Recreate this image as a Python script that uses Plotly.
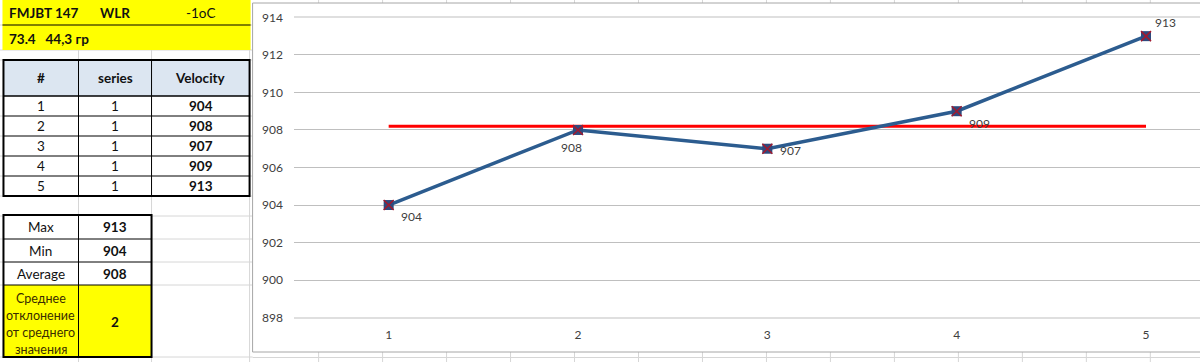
import plotly.graph_objects as go

# ---------------- data ----------------
shots = [1, 2, 3, 4, 5]
series_col = [1, 1, 1, 1, 1]
velocity = [904, 908, 907, 909, 913]
average_line = [908.2, 908.2, 908.2, 908.2, 908.2]
y_ticks = [898, 900, 902, 904, 906, 908, 910, 912, 914]

header_left = "FMJBT 147"
header_mid = "WLR"
header_right = "-1oC"
subheader = "73.4   44,3 гр"
table_headers = ["#", "series", "Velocity"]
stat_names = ["Max", "Min", "Average"]
stat_values = [913, 904, 908]
dev_label_lines = ["Среднее", "отклонение", "от среднего", "значения"]
dev_value = 2

# ---------------- geometry ----------------
W, H = 1200, 362
PL, PT, PB = 294.4, 17, 318          # plot area pixel edges
PW = W - PL
PH = PB - PT
STEP = 189.25                         # pixels per category
x_hi = 0.5 + PW / STEP


def px(x):
    return (x - PL) / PW


def py(y):
    return (PB - y) / PH


FONT = "Lato, 'Open Sans', sans-serif"
shapes = []
annotations = []


def rect(x0, y0, x1, y1, fill=None, line=None, lw=0, layer="below"):
    shapes.append(dict(type="rect", xref="paper", yref="paper",
                       x0=px(x0), x1=px(x1), y0=py(y0), y1=py(y1),
                       fillcolor=fill if fill else "rgba(0,0,0,0)",
                       line=dict(color=line if line else "rgba(0,0,0,0)", width=lw),
                       layer=layer))


def hline(x0, x1, y, color, lw=1, layer="below"):
    shapes.append(dict(type="line", xref="paper", yref="paper",
                       x0=px(x0), x1=px(x1), y0=py(y), y1=py(y),
                       line=dict(color=color, width=lw), layer=layer))


def vline(x, y0, y1, color, lw=1, layer="below"):
    shapes.append(dict(type="line", xref="paper", yref="paper",
                       x0=px(x), x1=px(x), y0=py(y0), y1=py(y1),
                       line=dict(color=color, width=lw), layer=layer))


def text(x, y, s, bold=False, anchor="center", size=13.5, color="#111111"):
    annotations.append(dict(xref="paper", yref="paper", x=px(x), y=py(y),
                            text=f"<b>{s}</b>" if bold else s, showarrow=False,
                            xanchor=anchor, yanchor="middle",
                            font=dict(family=FONT, size=size, color=color)))


GRID = "#D6D6D6"
# spreadsheet gridlines (left side)
for gx in [79, 152, 250]:
    vline(gx, 0, 362, GRID)
for gy in [25, 50, 60, 96, 116, 136, 156, 176, 196, 216, 239, 262, 285, 357]:
    hline(0, 253, gy, GRID)
# gridlines above / below chart
for k in range(15):
    gx = 319 + 63.95 * k
    vline(gx, 352, 362, GRID)
    vline(gx, 0, 3, GRID)
hline(253, 1200, 357.5, GRID)

# yellow header rows
rect(3, 0, 251, 50, fill="#FFFF00")
hline(3, 251, 25, "#000000", 1)
text(8, 13, header_left, bold=True, anchor="left")
text(115.5, 13, header_mid, bold=True)
text(201, 13, header_right)
text(8, 39, subheader, bold=True, anchor="left")

# main table
cols = [4, 79, 152, 250]
rect(4, 60, 250, 96, fill="#DCE6F1")
rect(4, 96, 250, 196, fill="#FFFFFF")
for i, h in enumerate(table_headers):
    text((cols[i] + cols[i + 1]) / 2, 78, h, bold=True)
row_y = [96, 116, 136, 156, 176, 196]
for r in range(len(shots)):
    cy = (row_y[r] + row_y[r + 1]) / 2
    text((cols[0] + cols[1]) / 2, cy, str(shots[r]))
    text((cols[1] + cols[2]) / 2, cy, str(series_col[r]))
    text((cols[2] + cols[3]) / 2, cy, str(velocity[r]), bold=True)
for yy in row_y[1:-1]:
    hline(4, 250, yy, "#000000", 1)
hline(4, 250, 96, "#000000", 1.5)
for xx in cols[1:-1]:
    vline(xx, 60, 196, "#000000", 1)
rect(4, 60, 250, 196, line="#000000", lw=2)

# stats table
scols = [4, 79, 152]
srows = [215, 239, 262, 285, 357]
rect(4, 215, 152, 285, fill="#FFFFFF")
rect(4, 285, 152, 357, fill="#FFFF00")
for r in range(3):
    cy = (srows[r] + srows[r + 1]) / 2
    text((scols[0] + scols[1]) / 2, cy, stat_names[r])
    text((scols[1] + scols[2]) / 2, cy, str(stat_values[r]), bold=True)
for i, ln in enumerate(dev_label_lines):
    text((scols[0] + scols[1]) / 2, 298 + 17.3 * i, ln, size=12.5, color="#3a2d00")
text((scols[1] + scols[2]) / 2, 322, str(dev_value), bold=True)
for yy in srows[1:-1]:
    hline(4, 152, yy, "#000000", 1)
vline(79, 215, 357, "#000000", 1)
rect(4, 215, 152, 357, line="#000000", lw=2)

# chart frame
rect(253, 3, 1210, 352, fill="#FFFFFF", line="#A6A6A6", lw=1)

# explicit edge gridlines (bottom / top of the value axis), unclipped
hline(PL, W, PB, "#BFBFBF", 1.2)
hline(PL, W, PT, "#BFBFBF", 1.2)

# ---------------- chart traces ----------------
fig = go.Figure()
fig.add_trace(go.Scatter(x=shots, y=average_line, mode="lines",
                         line=dict(color="#FF0000", width=3), hoverinfo="skip"))
fig.add_trace(go.Scatter(x=shots, y=velocity, mode="lines+markers",
                         line=dict(color="#2C5C8F", width=3.5),
                         marker=dict(symbol="square", size=10, color="#2E4A7E")))
fig.add_trace(go.Scatter(x=shots, y=velocity, mode="markers",
                         marker=dict(symbol="x-thin", size=10,
                                     line=dict(color="#A3192E", width=1.5)),
                         hoverinfo="skip"))

# data labels (pixel offsets like in the original)
offsets = [(23, -11), (-7, -18), (23, -2), (23, -12), (19, 14)]
for xv, yv, (dx, dy) in zip(shots, velocity, offsets):
    annotations.append(dict(x=xv, y=yv, xref="x", yref="y", text=str(yv),
                            showarrow=False, xshift=dx, yshift=dy,
                            font=dict(family=FONT, size=12, color="#404040")))

fig.update_layout(
    width=W, height=H,
    margin=dict(l=PL, r=0, t=PT, b=H - PB),
    paper_bgcolor="#FFFFFF", plot_bgcolor="rgba(0,0,0,0)",
    showlegend=False,
    shapes=shapes, annotations=annotations,
    xaxis=dict(range=[0.5, x_hi], tickmode="array", tickvals=shots,
               ticktext=[str(s) for s in shots], showgrid=False, zeroline=False,
               showline=False, ticks="", ticklabelstandoff=8,
               tickfont=dict(family=FONT, size=12, color="#404040")),
    yaxis=dict(range=[897.98, 914.02], tickmode="array", tickvals=y_ticks,
               showgrid=True, gridcolor="#BFBFBF", gridwidth=1, zeroline=False,
               showline=False, ticks="", ticklabelstandoff=10,
               tickfont=dict(family=FONT, size=12, color="#404040")),
)

fig.write_html("out.html")
